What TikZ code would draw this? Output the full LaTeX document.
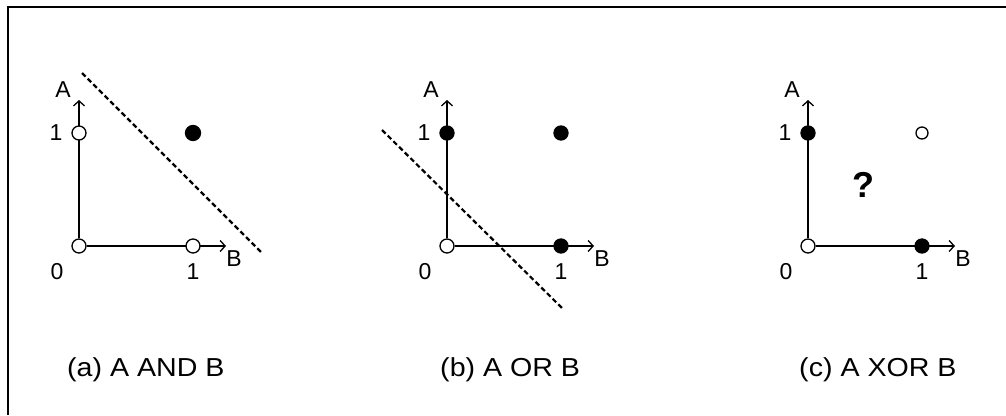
\documentclass[tikz,border=0pt]{standalone}
\usepackage{fontspec}
\setmainfont{Liberation Sans}
\usetikzlibrary{positioning, arrows.meta, backgrounds}
\definecolor{cInk}{HTML}{000000}

\tikzset{
  pt/.style={circle, draw=cInk, line width=1.3pt, minimum size=14pt, inner sep=0pt},
  axis/.style={draw=cInk, line width=1.7pt,
    -{Straight Barb[length=5pt, width=11pt, line width=1.3pt]}},
  sep/.style={draw=cInk, line width=2.2pt, dash pattern=on 5pt off 3pt},
  lbl/.style={font=\fontsize{23}{23}\selectfont, inner sep=0pt, text=cInk},
  captext/.style={font=\fontsize{26}{26}\selectfont, inner sep=0pt,
    anchor=base west, xscale=1.1, text=cInk},
}

\begin{document}
\begin{tikzpicture}[x=1pt, y=-1pt]
  \useasboundingbox (0,0) rectangle (1006,415);
  % frame, only its top and left edges are in view
  \draw[cInk, line width=2pt] (1006,7) -- (8,7) -- (8,415);

  \foreach \p/\ox/\fa/\fb/\fab/\sz/\capx/\cap in {
      a/79/white/white/cInk/15/-12/{(a) A AND B},
      b/447/cInk/cInk/cInk/14/-7/{(b) A OR B},
      c/808/cInk/cInk/white/12/-9/{(c) A XOR B}}{
    \begin{scope}[shift={(\ox,246)}]
      \node[pt, fill=white] (\p-o) at (0,0) {};
      \node[pt, fill=\fa] (\p-a) at (0,-113) {};
      \node[pt, fill=\fb] (\p-b) at (114,0) {};
      \node[pt, fill=\fab, minimum size=\sz pt] (\p-ab) at (114,-113) {};
      \coordinate (\p-atip) at (0,-146);
      \coordinate (\p-btip) at (147,0);
      \begin{pgfonlayer}{background}
        \draw[axis] (\p-o) -- (\p-atip);
        \draw[axis] (\p-o) -- (\p-btip);
      \end{pgfonlayer}
      \node[lbl] (\p-A)  at (-16,-156) {A};
      \node[lbl] (\p-B)  at (155,13) {B};
      \node[lbl] (\p-a1) at (-23,-113) {1};
      \node[lbl] (\p-o0) at (-22,26) {0};
      \node[lbl] (\p-b1) at (114,26) {1};
      \node[captext] (\p-cap) at (\capx,130.6) {\cap};
    \end{scope}
  }

  % separating lines
  \coordinate (a-s1) at (82,73);
  \coordinate (a-s2) at (262,253);
  \draw[sep] (a-s1) -- (a-s2);
  \coordinate (b-s1) at (382,130);
  \coordinate (b-s2) at (562,308);
  \draw[sep] (b-s1) -- (b-s2);
  \node[font=\fontsize{36}{36}\selectfont\bfseries, inner sep=0pt] (c-q) at (863,185) {?};
\end{tikzpicture}
\end{document}
